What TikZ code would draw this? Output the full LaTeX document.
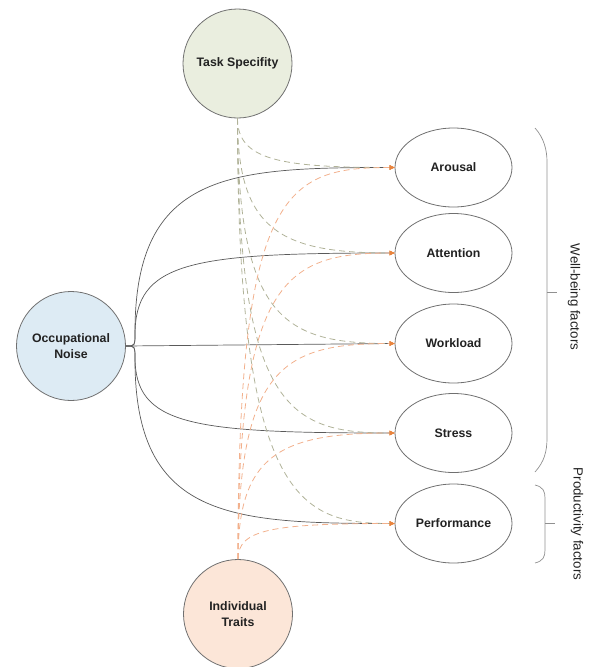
\documentclass[tikz,border=0pt]{standalone}
\usepackage{fontspec}
\setmainfont{Liberation Sans}
\usepackage{tikz}
\usetikzlibrary{shapes.geometric,arrows.meta}

\definecolor{taskfill}{HTML}{EAEEDF}
\definecolor{noisefill}{HTML}{DDEBF4}
\definecolor{traitfill}{HTML}{FCE6D8}
\definecolor{edgegray}{HTML}{707070}
\definecolor{bracegray}{HTML}{909090}
\definecolor{linegray}{HTML}{5A5A5A}
\definecolor{taskdash}{HTML}{B0B298}
\definecolor{traitdash}{HTML}{F2B08C}
\definecolor{tipcol}{HTML}{E8843E}
\definecolor{textdark}{HTML}{222222}

\begin{document}
\begin{tikzpicture}[x=1pt, y=-1pt,
	factor/.style={circle, draw=edgegray, line width=0.8pt, minimum size=109pt, inner sep=0pt, align=center, text=textdark, font=\fontsize{12.3}{16.5}\selectfont\bfseries},
	outcome/.style={ellipse, draw=edgegray, line width=0.8pt, minimum width=117pt, minimum height=79pt, inner sep=0pt, fill=white, text=textdark, font=\fontsize{12.3}{16.5}\selectfont\bfseries},
	noiseline/.style={draw=linegray, line width=0.7pt, -{Triangle[length=5pt, width=4.5pt, color=tipcol]}},
	taskline/.style={draw=taskdash, line width=0.8pt, dash pattern=on 6pt off 4pt, -{Triangle[length=5pt, width=4.5pt, color=tipcol]}},
	traitline/.style={draw=traitdash, line width=0.8pt, dash pattern=on 6pt off 4pt, -{Triangle[length=5pt, width=4.5pt, color=tipcol]}},
	groupbrace/.style={draw=bracegray, line width=0.7pt},
	grouplabel/.style={rotate=-90, text=textdark, font=\fontsize{13.3}{16}\selectfont}
]
	\useasboundingbox (0,0) rectangle (590,667);

	% Draw factors
	\node (task) at (237.5,63.5) [factor, fill=taskfill] {Task Specifity};
	\node (noise) at (71,346) [factor, fill=noisefill] {Occupational\\Noise};
	\node (traits) at (238,614) [factor, fill=traitfill] {Individual\\Traits};

	% Draw outcomes
	\node (arousal) at (453.5,167.5) [outcome] {Arousal};
	\node (attention) at (453.5,253) [outcome] {Attention};
	\node (workload) at (453.5,343.5) [outcome] {Workload};
	\node (stress) at (453.5,433) [outcome] {Stress};
	\node (performance) at (453.5,523.5) [outcome] {Performance};

	% Noise to outcomes
	\draw[noiseline] (noise.east) .. controls (135,346) .. (135,332) .. controls (135,172) and (230,167.5) .. (arousal.west);
	\draw[noiseline] (noise.east) .. controls (135,346) .. (135,335) .. controls (135,262) and (190,253) .. (attention.west);
	\draw[noiseline] (noise.east) -- (workload.west);
	\draw[noiseline] (noise.east) .. controls (135,346) .. (135,357) .. controls (135,425) and (190,433) .. (stress.west);
	\draw[noiseline] (noise.east) .. controls (135,346) .. (135,360) .. controls (135,518) and (230,523.5) .. (performance.west);

	% Task specifity to outcomes
	\draw[taskline] (task.south) .. controls (237.5,160) and (280,167.5) .. (arousal.west);
	\draw[taskline] (task.south) .. controls (237.5,230) and (280,253) .. (attention.west);
	\draw[taskline] (task.south) .. controls (237.5,320) and (285,343.5) .. (workload.west);
	\draw[taskline] (task.south) .. controls (237.5,410) and (290,433) .. (stress.west);
	\draw[taskline] (task.south) .. controls (237.5,500) and (300,523.5) .. (performance.west);

	% Individual traits to outcomes
	\draw[traitline] (traits.north) .. controls (238,190) and (285,167.5) .. (arousal.west);
	\draw[traitline] (traits.north) .. controls (238,280) and (285,253) .. (attention.west);
	\draw[traitline] (traits.north) .. controls (238,365) and (285,343.5) .. (workload.west);
	\draw[traitline] (traits.north) .. controls (238,455) and (280,433) .. (stress.west);
	\draw[traitline] (traits.north) .. controls (238,530) and (270,523.5) .. (performance.west);

	% Group braces
	\draw[groupbrace] (535,128) .. controls (544,138) and (547,150) .. (547,162) -- (547,438) .. controls (547,452) and (544,462) .. (535,472);
	\draw[groupbrace] (547,292) -- (557,292);
	\node (wellbeing) at (574,297) [grouplabel] {Well-being factors};
	\draw[groupbrace] (535,485) .. controls (543,487) and (545,491) .. (545,498) -- (545,550) .. controls (545,557) and (543,561) .. (535,563);
	\draw[groupbrace] (545,523) -- (555,523);
	\node (productivity) at (577,524) [grouplabel] {Productivity factors};

\end{tikzpicture}
\end{document}
